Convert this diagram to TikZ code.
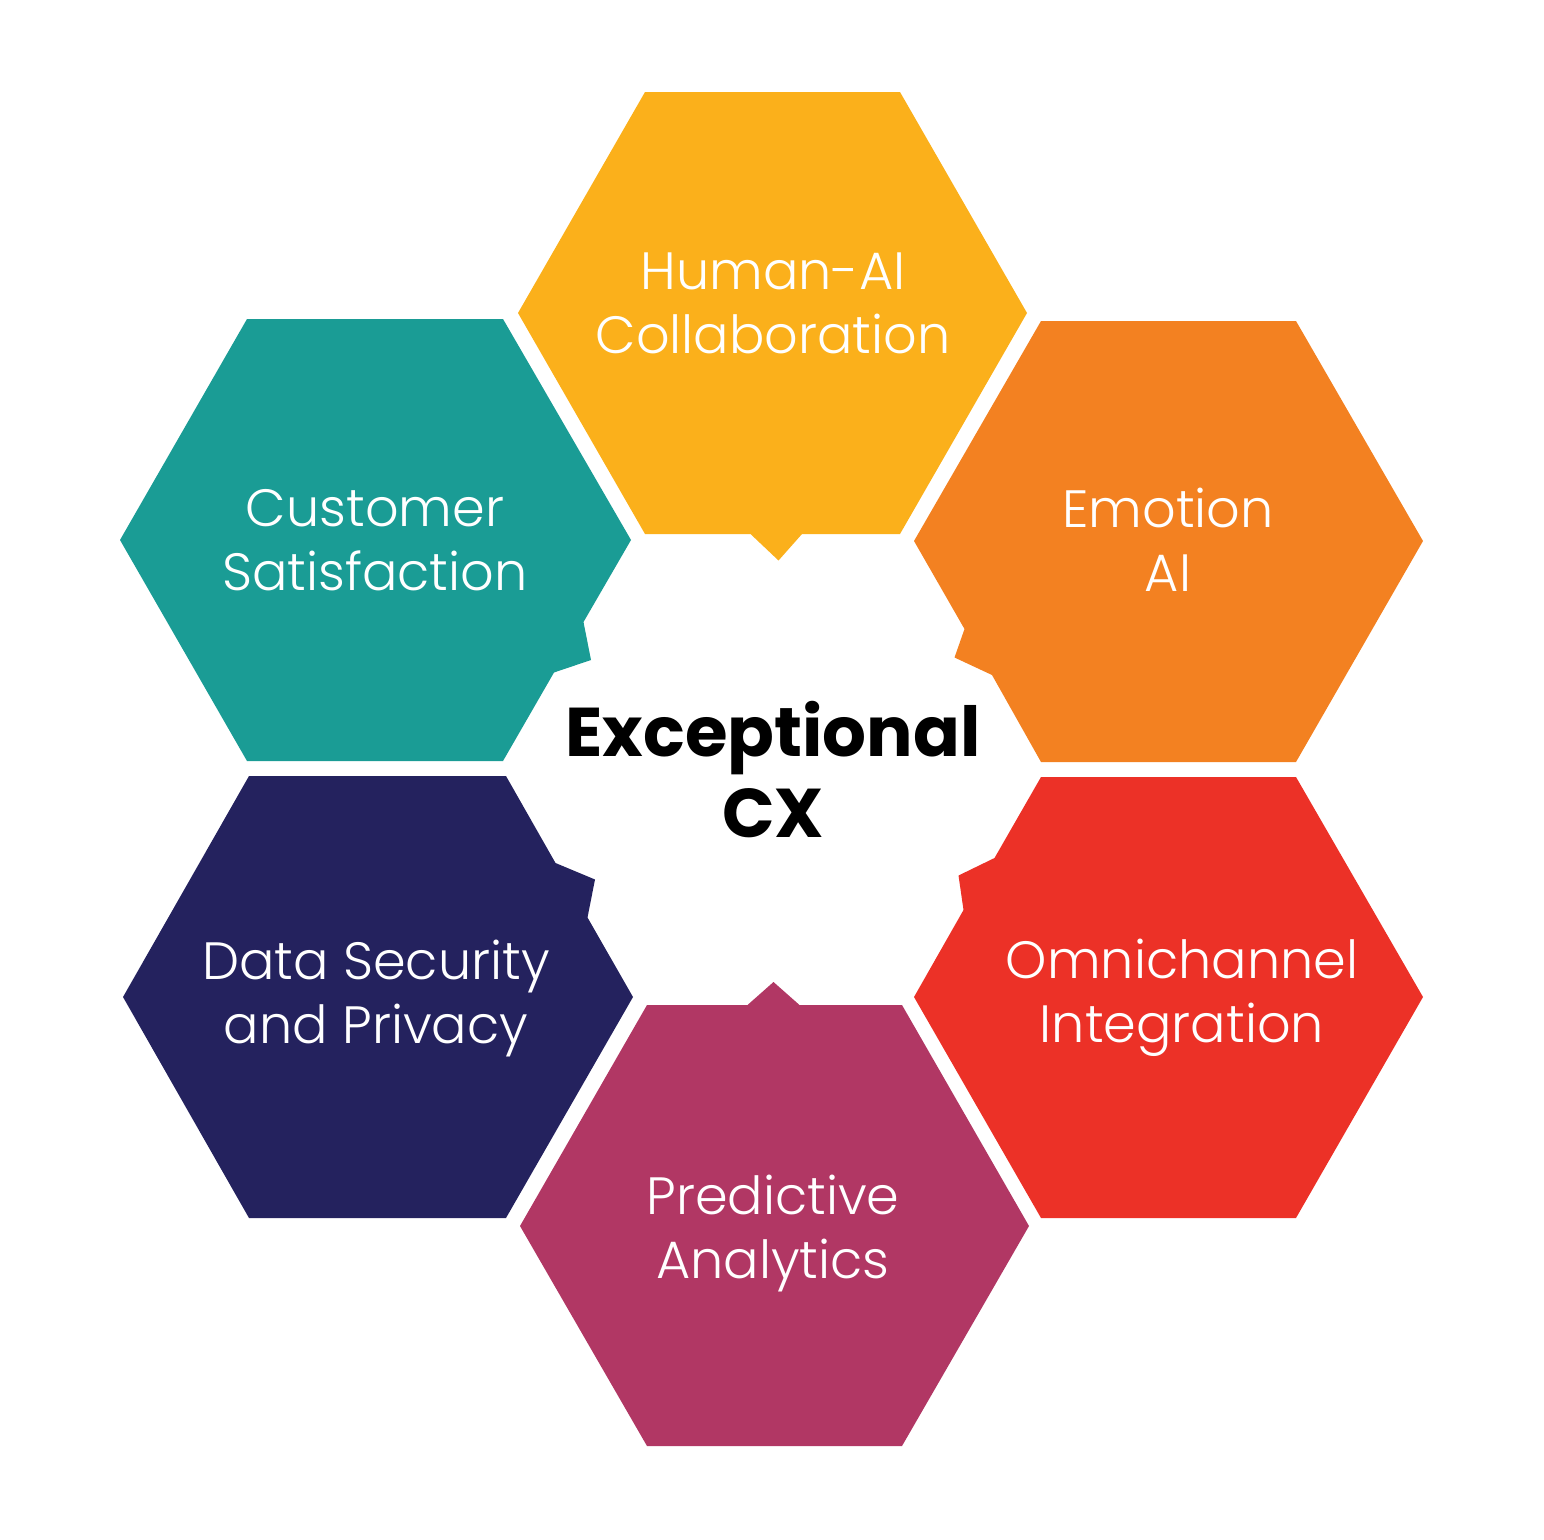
\documentclass[tikz,border=0pt]{standalone}
\usepackage{fontspec}
\newfontfamily\labelfont{Poppins Light}
\newfontfamily\titlefont{Poppins Bold}
\definecolor{cyellow}{HTML}{FBB01B}
\definecolor{corange}{HTML}{F38121}
\definecolor{cteal}{HTML}{1A9C95}
\definecolor{cnavy}{HTML}{24225E}
\definecolor{cred}{HTML}{EC3127}
\definecolor{cmagenta}{HTML}{B13764}
\tikzset{
  lbl/.style={text=white, align=center, font=\labelfont\fontsize{52.5}{64}\selectfont, inner sep=0pt},
  ttl/.style={text=black, align=center, font=\titlefont\fontsize{69}{81}\selectfont, inner sep=0pt}
}
\begin{document}
\begin{tikzpicture}[x=1pt,y=-1pt]
\useasboundingbox (0,0) rectangle (1544,1539);
% top: Human-AI
\fill[cyellow] (645,92) -- (900,92) -- (1027,313) -- (900,534) -- (802,534) -- (778.5,560.5) -- (750.5,534) -- (645,534) -- (518,313) -- cycle;
% Emotion AI
\fill[corange] (1041,321) -- (1296,321) -- (1423,541) -- (1296,762) -- (1041,762) -- (992,675) -- (954.5,657.5) -- (964.5,629) -- (914,541) -- cycle;
% Customer Satisfaction
\fill[cteal] (247,319) -- (503,319) -- (631,540) -- (583.5,622) -- (591,660) -- (554,672.5) -- (503,761) -- (247,761) -- (120,540) -- cycle;
% Data Security
\fill[cnavy] (249,776) -- (506,776) -- (555.5,863) -- (595,879.5) -- (587.5,917.5) -- (633,997) -- (506,1218) -- (249,1218) -- (123,997) -- cycle;
% Omnichannel
\fill[cred] (1041,777) -- (1296,777) -- (1423,997) -- (1296,1218) -- (1041,1218) -- (914,997) -- (963.5,910) -- (958.5,875.5) -- (994.5,858) -- cycle;
% Predictive
\fill[cmagenta] (647,1005) -- (747.5,1005) -- (773.5,982) -- (799.5,1005) -- (902,1005) -- (1029,1226) -- (902,1446) -- (647,1446) -- (520,1226) -- cycle;
\node[lbl] (hai) at (773,303) {Human-AI\\Collaboration};
\node[lbl] (emo) at (1168,540) {Emotion\\AI};
\node[lbl] (cus) at (375,540) {Customer\\Satisfaction};
\node[lbl] (dat) at (376,998) {Data Security\\and Privacy};
\node[lbl] (omn) at (1182,998) {Omnichannel\\Integration};
\node[lbl] (pre) at (773,1233) {Predictive\\Analytics};
\node[ttl] (cx) at (773,770) {Exceptional\\CX};
\end{tikzpicture}
\end{document}
